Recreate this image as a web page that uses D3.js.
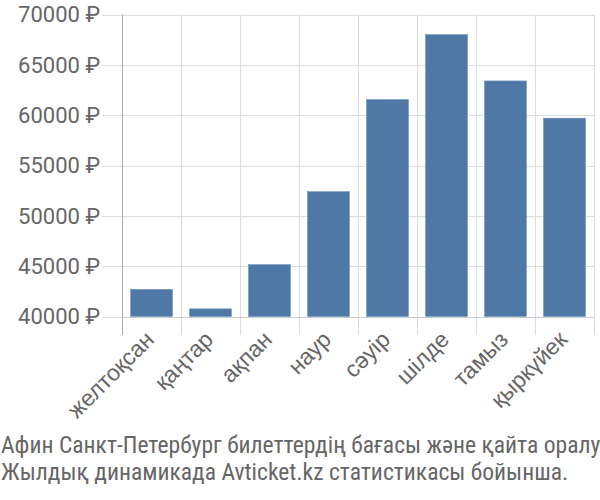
<!DOCTYPE html>
<html><head><meta charset="utf-8">
<script src="https://cdn.jsdelivr.net/npm/d3@7/dist/d3.min.js"></script>
<style>body{margin:0;background:#fff}svg{display:block}</style>
</head><body>
<script>
const categories = ["желтоқсан","қаңтар","ақпан","наур","сәуір","шілде","тамыз","қыркүйек"];
const values = [42700, 40760, 45150, 52400, 61550, 68000, 63400, 59700];
const yTicks = [40000, 45000, 50000, 55000, 60000, 65000, 70000];
const captionLines = ["Афин Санкт-Петербург билеттердің бағасы және қайта оралу","Жылдық динамикада Avticket.kz статистикасы бойынша."];

const W = 600, H = 500;
const m = {left:122, right:594, top:14.5, bottom:316.5};
const svg = d3.select("body").append("svg").attr("width",W).attr("height",H);

const x = d3.scaleBand().domain(categories).range([m.left,m.right]).paddingInner(0.29).paddingOuter(0.145);
const y = d3.scaleLinear().domain([40000,70000]).range([m.bottom,m.top]);
const step = x.step();

// horizontal grid
svg.append("g").selectAll("line").data(yTicks).join("line")
  .attr("x1",102).attr("x2",m.right).attr("y1",d=>Math.round(y(d))+0.5).attr("y2",d=>Math.round(y(d))+0.5)
  .attr("stroke","#dddddd").attr("stroke-width",1);
// vertical grid
const vb = d3.range(categories.length+1).map(i=>m.left+i*step);
svg.append("g").selectAll("line").data(vb).join("line")
  .attr("x1",d=>Math.round(d)+0.5).attr("x2",d=>Math.round(d)+0.5).attr("y1",m.top).attr("y2",335)
  .attr("stroke","#dddddd").attr("stroke-width",1);

// bars
svg.append("g").selectAll("rect").data(values).join("rect")
  .attr("x",(d,i)=>x(categories[i])).attr("width",x.bandwidth())
  .attr("y",d=>y(d)).attr("height",d=>y(40000)-y(d))
  .attr("fill","#4e79a7").attr("stroke","#6f93bb").attr("stroke-width",0.6);

// axis lines
svg.append("line").attr("x1",m.left+0.5).attr("x2",m.left+0.5).attr("y1",m.top).attr("y2",335).attr("stroke","#aaaaaa");
svg.append("line").attr("x1",m.left).attr("x2",m.right).attr("y1",Math.round(m.bottom)+0.5).attr("y2",Math.round(m.bottom)+0.5).attr("stroke","#cccccc");

// y labels
svg.append("g").selectAll("text").data(yTicks).join("text")
  .attr("x",100).attr("y",d=>y(d)).attr("dy","0.35em").attr("text-anchor","end")
  .attr("font-family","Roboto, sans-serif").attr("font-size",22).attr("fill","#666666")
  .text(d=>d+" ₽");

// x labels
svg.append("g").selectAll("text").data(categories).join("text")
  .attr("text-anchor","end").attr("font-family","'Liberation Sans', Arial, sans-serif").attr("font-size",23).attr("fill","#666666")
  .attr("transform",d=>`translate(${x(d)+x.bandwidth()/2+4},${341}) rotate(-45)`)
  .text(d=>d);

// caption
svg.append("g").selectAll("text").data(captionLines).join("text")
  .attr("x",1).attr("y",(d,i)=>453+i*27).attr("font-family","'Liberation Sans Narrow', 'Roboto Condensed', sans-serif")
  .attr("font-size",23.6).attr("fill","#666666").text(d=>d);
</script>
</body></html>
